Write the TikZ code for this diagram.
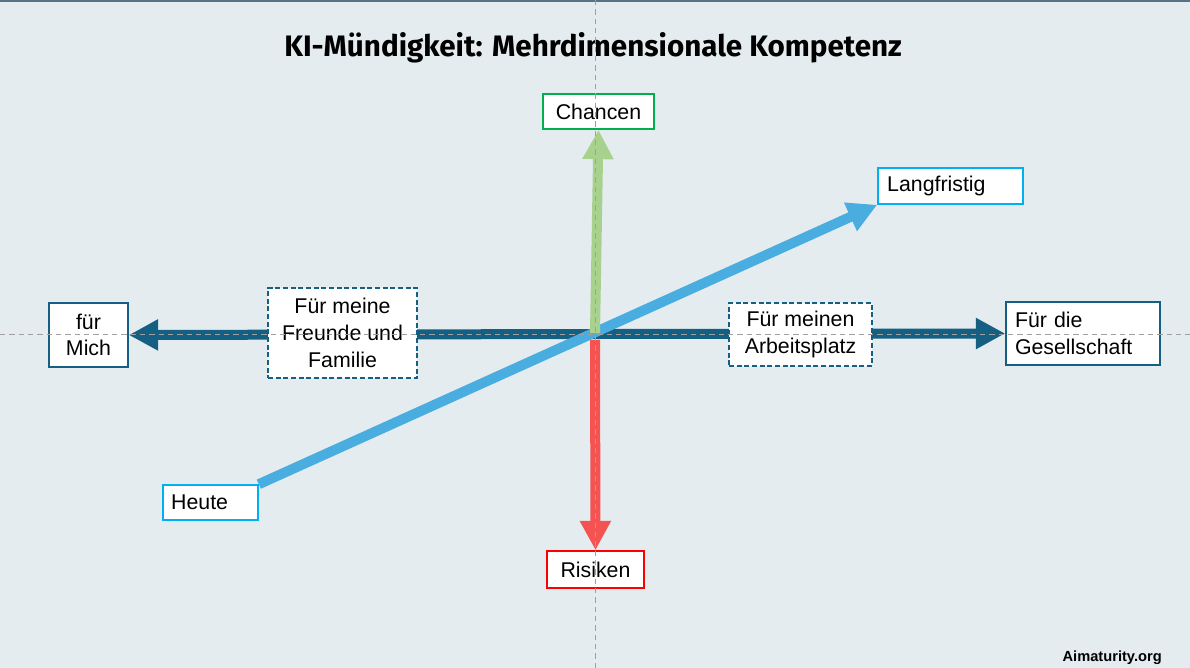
\documentclass[tikz,border=0pt]{standalone}
\usepackage{fontspec}
\setmainfont{Liberation Sans}
\newfontfamily\titlefont{Fira Sans}
\usetikzlibrary{arrows.meta}
\pgfdeclarelayer{back}
\pgfdeclarelayer{arrowlayer}
\pgfdeclarelayer{front}
\pgfsetlayers{back,arrowlayer,main,front}
\definecolor{bgc}{HTML}{E4ECF0}
\definecolor{topline}{HTML}{5A7384}
\definecolor{darkteal}{HTML}{156082}
\definecolor{lightblue}{HTML}{4AADE0}
\definecolor{lgreen}{HTML}{A9D18E}
\definecolor{lred}{HTML}{F55252}
\definecolor{bgreen}{HTML}{00B050}
\definecolor{bcyan}{HTML}{00B0F0}
\definecolor{bred}{HTML}{FF0000}
\definecolor{guide}{HTML}{A0A0A0}
\tikzset{
  box/.style={draw, fill=white, line width=1.2pt, inner sep=0pt, font=\fontsize{16}{20}\selectfont},
  dbox/.style={box, draw=darkteal, dash pattern=on 3.75pt off 2pt},
  bigarrow/.style={line width=7.5pt, -{Triangle[length=22pt,width=22pt]}},
  guideline/.style={draw=guide, line width=0.6pt, dash pattern=on 4pt off 3pt}
}
\begin{document}
\begin{tikzpicture}[x=0.75pt,y=-0.75pt]
\useasboundingbox (0,0) rectangle (1190,668);
\begin{pgfonlayer}{back}
\fill[bgc] (0,0) rectangle (1190,668);
\draw[topline, line width=1.5pt] (0,1) -- (1190,1);
\end{pgfonlayer}

\node[font=\titlefont\bfseries\fontsize{22.2}{26}\selectfont] (title) at (593,48) {KI-Mündigkeit: Mehrdimensionale Kompetenz};

\node[box, draw=bgreen, minimum width=83.25pt, minimum height=26.25pt] (chancen) at (598.5,111.5) {Chancen};
\node[box, draw=bcyan, minimum width=108.75pt, minimum height=27pt, text width=95pt, align=left] (lang) at (950.5,186) {Langfristig};
\node[box, draw=bcyan, minimum width=71.25pt, minimum height=26.25pt, text width=59pt, align=left] (heute) at (210.5,502.5) {Heute};
\node[box, draw=darkteal, minimum width=59.25pt, minimum height=48pt, align=center] (mich) at (88.5,335) {für\\Mich};
\node[dbox, minimum width=111.75pt, minimum height=67.5pt, align=center] (freunde) at (342.5,333) {Für meine\\Freunde und\\Familie};
\node[dbox, minimum width=107.25pt, minimum height=47.25pt, align=center] (arbeit) at (800.5,334.5) {Für meinen\\Arbeitsplatz};
\node[box, draw=darkteal, minimum width=115.5pt, minimum height=47.25pt, text width=102pt, align=left] (ges) at (1083,333.5) {Für die\\Gesellschaft};
\node[box, draw=bred, minimum width=72.75pt, minimum height=27.75pt] (risiken) at (595.5,569.5) {Risiken};

\node[font=\bfseries\fontsize{11}{13}\selectfont, anchor=base east, inner sep=0pt] (site) at (1162,661) {Aimaturity.org};

\coordinate (c) at (595,334);
\coordinate (cg) at (595,333);
\coordinate (cr) at (595,340);

\begin{pgfonlayer}{arrowlayer}
\draw[bigarrow, darkteal] (c) -- (mich.east);
\draw[bigarrow, darkteal] (c) -- (ges.west);
\draw[bigarrow, lightblue] (heute.north east) -- (lang.south west);
\draw[bigarrow, lgreen] (cg) -- (chancen.south);
\draw[bigarrow, lred] (cr) -- (risiken.north);
\end{pgfonlayer}

\begin{pgfonlayer}{front}
\coordinate (gt) at (595,0);
\coordinate (gb) at (595,668);
\coordinate (gl) at (0,334);
\coordinate (gr) at (1190,334);
\draw[guideline] (gt) -- (gb);
\draw[guideline] (gl) -- (gr);
\end{pgfonlayer}
\end{tikzpicture}
\end{document}
